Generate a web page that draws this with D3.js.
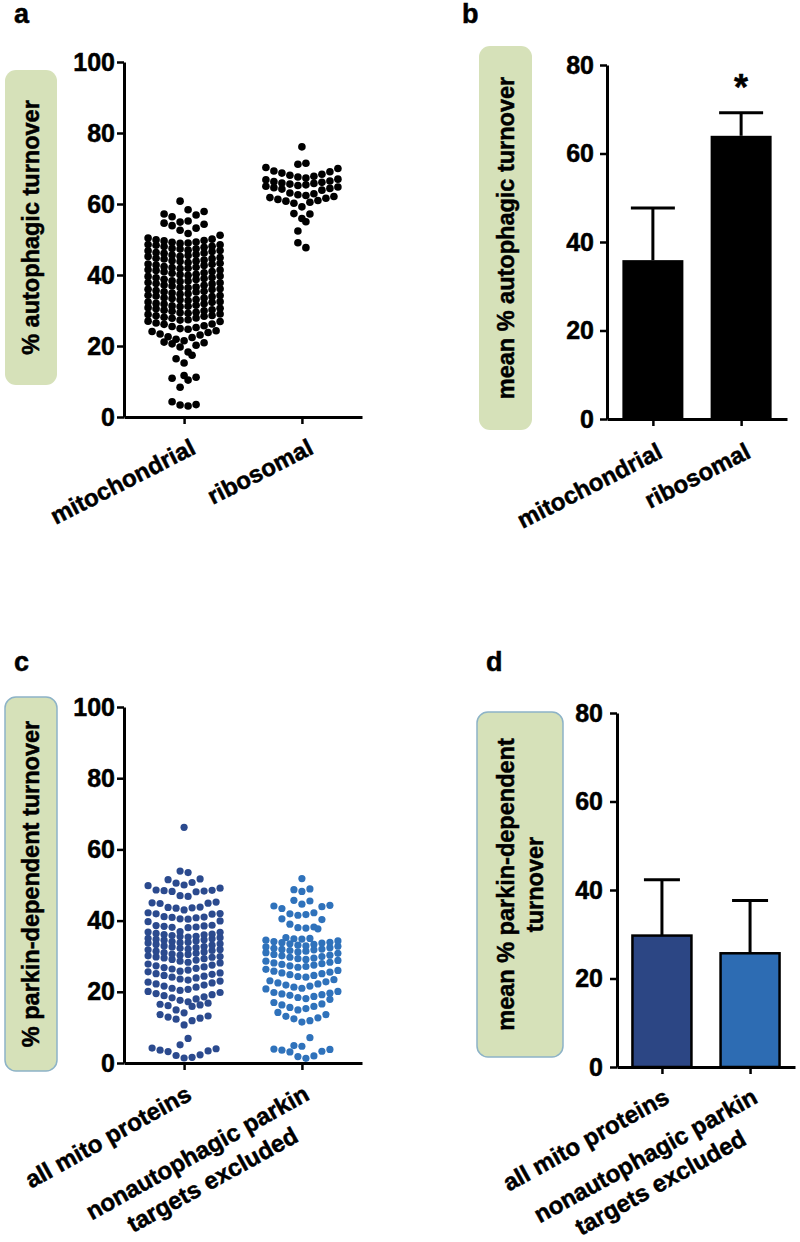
<!DOCTYPE html>
<html><head><meta charset="utf-8">
<script src="https://cdn.jsdelivr.net/npm/d3@7"></script>
<style>
body{margin:0;background:#fff}
svg{display:block}
text{font-family:Arial,"Liberation Sans",sans-serif;font-weight:bold;fill:#000;stroke:#000;stroke-width:0.5px}
</style>
</head><body>
<svg id="chart" width="800" height="1242"></svg>
<script>
// ---------- data ----------
const catsAB = ["mitochondrial", "ribosomal"];
const catsCD = ["all mito proteins", "nonautophagic parkin|targets excluded"];
const ticksA = [0, 20, 40, 60, 80, 100];
const ticksB = [0, 20, 40, 60, 80];

const mitoTurnover = [
 60.8, 58.4, 57.9, 57.2, 56.9, 56.4, 55.2, 54.9, 54.6, 54.3, 53.9, 53.2, 52.6, 51.7, 51.2,
 50.4, 50.1, 49.9, 49.7, 49.6, 49.3, 49.2, 49.0, 48.9, 48.6, 48.5, 48.4, 48.1, 48.0,
 47.8, 47.5, 47.4, 47.3, 47.0, 46.9, 46.8, 46.6, 46.3, 46.2, 46.1, 45.8, 45.6, 45.5,
 45.3, 45.2, 44.9, 44.7, 44.6, 44.5, 44.2, 44.0, 43.9, 43.8, 43.5, 43.3, 43.1, 43.0,
 42.8, 42.7, 42.4, 42.2, 42.1, 41.9, 41.8, 41.5, 41.4, 41.3, 41.0, 40.9, 40.6, 40.5,
 40.2, 40.1, 39.9, 39.7, 39.6, 39.3, 39.2, 39.0, 38.8, 38.7, 38.4, 38.3, 38.2, 37.9,
 37.8, 37.6, 37.5, 37.2, 37.1, 36.9, 36.6, 36.5, 36.4, 36.1, 36.0, 35.9, 35.6, 35.4,
 35.3, 35.2, 34.9, 34.7, 34.6, 34.3, 34.2, 34.1, 33.9, 33.6, 33.5, 33.4, 33.1, 33.0,
 32.8, 32.5, 32.4, 32.3, 32.0, 31.9, 31.8, 31.5, 31.3, 31.2, 31.1, 30.8, 30.6, 30.5,
 30.2, 30.1, 29.9, 29.8, 29.5, 29.4, 29.2, 29.0, 28.9, 28.6, 28.5, 28.4, 28.1, 27.9,
 27.8, 27.4, 27.3, 27.0, 26.9, 26.5, 26.2, 26.1, 25.7, 25.5, 25.2, 24.9, 24.7, 24.3,
 24.1, 23.8, 23.4, 23.1, 22.6, 22.4, 21.9, 21.5, 21.1,
 20.9, 20.6, 20.2, 19.7, 18.3, 17.4, 16.4, 15.2, 11.7, 11.2, 10.9, 10.4, 8.4, 4.3, 3.5, 3.4, 3.1
];
const riboTurnover = [
 76.1, 71.5, 71.2, 70.3, 70.0, 69.3, 69.1, 68.7, 68.4, 68.1, 67.8, 67.6, 67.3, 67.0, 66.8, 66.5, 66.3,
 66.1, 65.9, 65.8, 65.6, 65.4, 65.2, 65.0, 64.8, 64.6, 64.4, 64.2, 63.9,
 63.1, 62.9, 62.6, 62.4, 62.1, 61.8, 61.6, 61.3, 61.0, 60.8, 60.5, 60.2,
 59.2, 57.3, 57.2, 55.9, 55.0, 52.4, 49.1, 47.7
];
const allMitoParkin = [
 66.2, 53.9, 53.5, 51.7, 51.5, 50.7, 50.5, 50.0, 49.8, 49.1,
 48.6, 48.5, 48.4, 48.3, 48.2, 48.1, 47.0, 46.8,
 45.2, 45.0, 44.9, 44.8, 43.8, 43.7, 43.6, 43.5, 43.0,
 42.2, 42.0, 41.9, 41.8, 41.1, 41.0, 40.9, 40.8, 40.5, 40.4,
 39.9, 39.7, 38.7, 38.6, 38.5, 38.4, 38.2, 38.1, 38.0,
 36.9, 36.8, 36.7, 36.4, 36.2, 36.1, 36.0, 35.8, 35.6, 35.5, 35.4, 35.2, 35.0,
 34.9, 34.7, 34.6, 34.5, 34.3, 34.1, 33.9, 33.8, 33.7, 33.5, 33.3, 33.1,
 32.9, 32.7, 32.6, 32.4, 32.2, 32.0, 31.9, 31.8, 31.6, 31.4, 31.2, 31.0,
 30.8, 30.6, 30.5, 30.3, 30.1, 29.9, 29.8, 29.7, 29.5, 29.3, 29.1, 28.9,
 28.6, 28.3, 28.1, 27.8, 27.5, 27.3, 27.0, 26.8, 26.6, 26.4,
 26.1, 25.8, 25.6, 25.3, 25.1, 24.9, 24.6, 24.4, 24.1, 23.9,
 23.6, 23.3, 23.0, 22.7, 22.5, 22.2, 21.9, 21.6, 21.3, 21.0,
 20.7, 20.4, 20.1, 19.8, 19.5, 19.2, 18.9, 18.6, 18.3, 18.0,
 17.6, 17.2, 16.8, 16.5, 16.3, 16.1, 15.9,
 14.9, 14.1, 13.6, 13.2, 12.9, 12.6, 12.3, 11.9, 10.7,
 6.9, 5.1, 4.2, 4.0, 3.6, 3.4, 3.2, 2.3, 2.1, 1.6, 1.4
];
const exclParkin = [
 51.8, 48.9, 48.7, 48.2, 45.7, 45.5, 44.6, 44.3, 44.1, 43.9, 43.4, 42.2, 41.9, 41.7, 41.5,
 40.5, 40.3, 39.0, 38.2, 38.0, 37.9, 37.7,
 35.2, 35.0, 34.9, 34.8, 34.5, 34.3, 34.1, 33.9, 33.8, 33.7, 33.5, 33.3,
 33.1, 32.9, 32.8, 32.6, 32.4, 32.2, 32.0, 31.9, 31.8, 31.6, 31.4, 31.2,
 31.0, 30.8, 30.5, 30.3, 30.1, 29.9, 29.7, 29.5, 29.3, 29.1,
 28.8, 28.6, 28.3, 28.1, 27.9, 27.7, 27.5, 27.3, 27.1, 26.9,
 26.3, 26.0, 25.8, 25.5, 25.3, 25.1, 24.8, 24.6, 24.3, 24.1,
 23.4, 23.1, 22.8, 22.5, 22.2, 21.9, 21.6, 21.3, 21.0, 20.8,
 20.1, 19.8, 19.6, 19.4, 19.2, 19.0, 18.7, 18.4, 18.1, 17.9,
 17.0, 16.6, 16.3, 15.9, 15.6, 15.3, 14.9,
 14.2, 13.6, 13.1, 12.7, 12.4, 11.9, 11.5,
 7.1, 4.9, 4.7, 3.9, 3.8, 3.6, 3.3, 3.1, 2.0, 1.8, 1.3
];
const meanAutophagic = [35.9, 64.0];
const sdAutophagic = [11.8, 5.2];
const meanParkin = [29.7, 25.7];
const sdParkin = [12.6, 11.9];

// ---------- helpers ----------
const svg = d3.select("#chart");
const BOX_FILL = "#d6e1b9";
const BOX_STROKE = "#8db3c7";

function swarm(values, W, maxN) {
  const s = values.slice().sort((a, b) => a - b);
  const out = [];
  let row = [];
  let flip = 1;
  const flush = () => {
    const n = row.length, offs = [];
    if (n % 2) { offs.push(0); for (let k = 1; offs.length < n; k++) { offs.push(k * flip); if (offs.length < n) offs.push(-k * flip); } }
    else { for (let k = 0; offs.length < n; k++) { offs.push((k + 0.5) * flip); offs.push(-(k + 0.5) * flip); } }
    row.forEach((v, i) => out.push({ v, slot: offs[i] }));
    row = []; flip = -flip;
  };
  s.forEach(v => { if (row.length && (v - row[0] > W || row.length >= maxN)) flush(); row.push(v); });
  if (row.length) flush();
  return out;
}

function styleAxis(sel, fs) {
  sel.attr("font-family", null).attr("font-size", null);
  sel.select(".domain").attr("stroke", "#000").attr("stroke-width", 3);
  sel.selectAll(".tick line").attr("stroke", "#000").attr("stroke-width", 2.5);
  sel.selectAll(".tick text").attr("font-size", fs).attr("fill", "#000");
}

function axes(g, x, y, ticks, pad) {
  const x0 = x.range()[0];
  g.append("g").attr("transform", `translate(0,${y(0)})`)
    .call(d3.axisBottom(x).tickSize(7).tickSizeOuter(0).tickFormat(""))
    .call(s => styleAxis(s, 25));
  g.append("g").attr("transform", `translate(${x0},0)`)
    .call(d3.axisLeft(y).tickValues(ticks).tickSize(7).tickSizeOuter(0).tickPadding(pad))
    .call(s => styleAxis(s, 25));
}

function xLabels(g, x, axisY, angle, dx, dy) {
  x.domain().forEach(key => {
    const lines = key.split("|");
    const t = g.append("g").attr("transform", `translate(${x(key) + dx},${axisY + dy}) rotate(${-angle})`);
    const t1 = t.append("text").attr("text-anchor", "end").attr("font-size", 24).text(lines[0]);
    if (lines.length > 1) {
      const w = t1.node().getComputedTextLength();
      t.append("text").attr("text-anchor", "middle").attr("font-size", 24)
        .attr("x", -w / 2).attr("y", 31).text(lines[1]);
    }
  });
}

function boxLabel(x, y, w, h, lines, stroke) {
  svg.append("rect").attr("x", x).attr("y", y).attr("width", w).attr("height", h)
    .attr("rx", 11).attr("fill", BOX_FILL)
    .attr("stroke", stroke || "none").attr("stroke-width", 1.5);
  const g = svg.append("g").attr("transform", `translate(${x + w / 2},${y + h / 2}) rotate(-90)`);
  const lh = 29;
  lines.forEach((l, i) => {
    g.append("text").attr("text-anchor", "middle").attr("dominant-baseline", "central")
      .attr("font-size", 23.5).attr("y", (i - (lines.length - 1) / 2) * lh).text(l);
  });
}

function panelLetter(t, x, y) {
  svg.append("text").attr("x", x).attr("y", y).attr("font-size", 27).text(t);
}

// ---------- panel a ----------
{
  const g = svg.append("g");
  const y = d3.scaleLinear().domain([0, 100]).range([417, 62]);
  const x = d3.scalePoint().domain(catsAB).range([124, 362]).padding(0.51);
  [mitoTurnover, riboTurnover].forEach((vals, i) => {
    g.append("g").selectAll("circle").data(swarm(vals, 3, 10)).join("circle")
      .attr("cx", d => x(catsAB[i]) + d.slot * 8).attr("cy", d => y(d.v))
      .attr("r", 3.8).attr("fill", "#000");
  });
  axes(g, x, y, ticksA, 2);
  xLabels(g, x, y(0), 27, 13, 36);
  boxLabel(5, 70, 52, 315, ["% autophagic turnover"]);
  panelLetter("a", 14, 23);
}

// ---------- panel b ----------
{
  const g = svg.append("g");
  const y = d3.scaleLinear().domain([0, 80]).range([419, 65]);
  const x = d3.scalePoint().domain(catsAB).range([607, 787]).padding(0.52);
  const bw = 61;
  g.selectAll("rect.bar").data(catsAB).join("rect").attr("class", "bar")
    .attr("x", c => x(c) - bw / 2).attr("width", bw)
    .attr("y", (c, i) => y(meanAutophagic[i])).attr("height", (c, i) => y(0) - y(meanAutophagic[i]))
    .attr("fill", "#000");
  catsAB.forEach((c, i) => {
    const top = y(meanAutophagic[i] + sdAutophagic[i]);
    g.append("line").attr("x1", x(c)).attr("x2", x(c)).attr("y1", y(meanAutophagic[i])).attr("y2", top)
      .attr("stroke", "#000").attr("stroke-width", 3);
    g.append("line").attr("x1", x(c) - 22).attr("x2", x(c) + 22).attr("y1", top).attr("y2", top)
      .attr("stroke", "#000").attr("stroke-width", 3);
  });
  g.append("text").attr("x", x(catsAB[1])).attr("y", y(meanAutophagic[1] + sdAutophagic[1]) - 13)
    .attr("text-anchor", "middle").attr("font-size", 36).text("*");
  axes(g, x, y, ticksB, 6);
  xLabels(g, x, y(0), 27, 11, 38);
  boxLabel(479, 46, 53, 384, ["mean % autophagic turnover"]);
  panelLetter("b", 462, 23);
}

// ---------- panel c ----------
{
  const g = svg.append("g");
  const y = d3.scaleLinear().domain([0, 100]).range([1063, 707]);
  const x = d3.scalePoint().domain(catsCD).range([124, 362]).padding(0.51);
  const cols = ["#2b4a8e", "#2f72bb"];
  [allMitoParkin, exclParkin].forEach((vals, i) => {
    g.append("g").selectAll("circle").data(swarm(vals, 3, 10)).join("circle")
      .attr("cx", d => x(catsCD[i]) + d.slot * 8).attr("cy", d => y(d.v))
      .attr("r", 3.6).attr("fill", cols[i]);
  });
  axes(g, x, y, ticksA, 2);
  xLabels(g, x, y(0), 29, 9, 36);
  boxLabel(5, 697, 52, 374, ["% parkin-dependent turnover"], BOX_STROKE);
  panelLetter("c", 14, 671);
}

// ---------- panel d ----------
{
  const g = svg.append("g");
  const y = d3.scaleLinear().domain([0, 80]).range([1067, 713]);
  const x = d3.scalePoint().domain(catsCD).range([617, 795]).padding(0.51);
  const cols = ["#2c4684", "#2d6cb3"];
  const bw = 59;
  g.selectAll("rect.bar").data(catsCD).join("rect").attr("class", "bar")
    .attr("x", c => x(c) - bw / 2).attr("width", bw)
    .attr("y", (c, i) => y(meanParkin[i])).attr("height", (c, i) => y(0) - y(meanParkin[i]))
    .attr("fill", (c, i) => cols[i]).attr("stroke", "#000").attr("stroke-width", 2.5);
  catsCD.forEach((c, i) => {
    const top = y(meanParkin[i] + sdParkin[i]);
    g.append("line").attr("x1", x(c)).attr("x2", x(c)).attr("y1", y(meanParkin[i])).attr("y2", top)
      .attr("stroke", "#000").attr("stroke-width", 3);
    g.append("line").attr("x1", x(c) - 18).attr("x2", x(c) + 18).attr("y1", top).attr("y2", top)
      .attr("stroke", "#000").attr("stroke-width", 3);
  });
  axes(g, x, y, ticksB, 7);
  xLabels(g, x, y(0), 29, 9, 35);
  boxLabel(477, 712, 86, 345, ["mean % parkin-dependent", "turnover"], BOX_STROKE);
  panelLetter("d", 486, 671);
}
</script>
</body></html>
